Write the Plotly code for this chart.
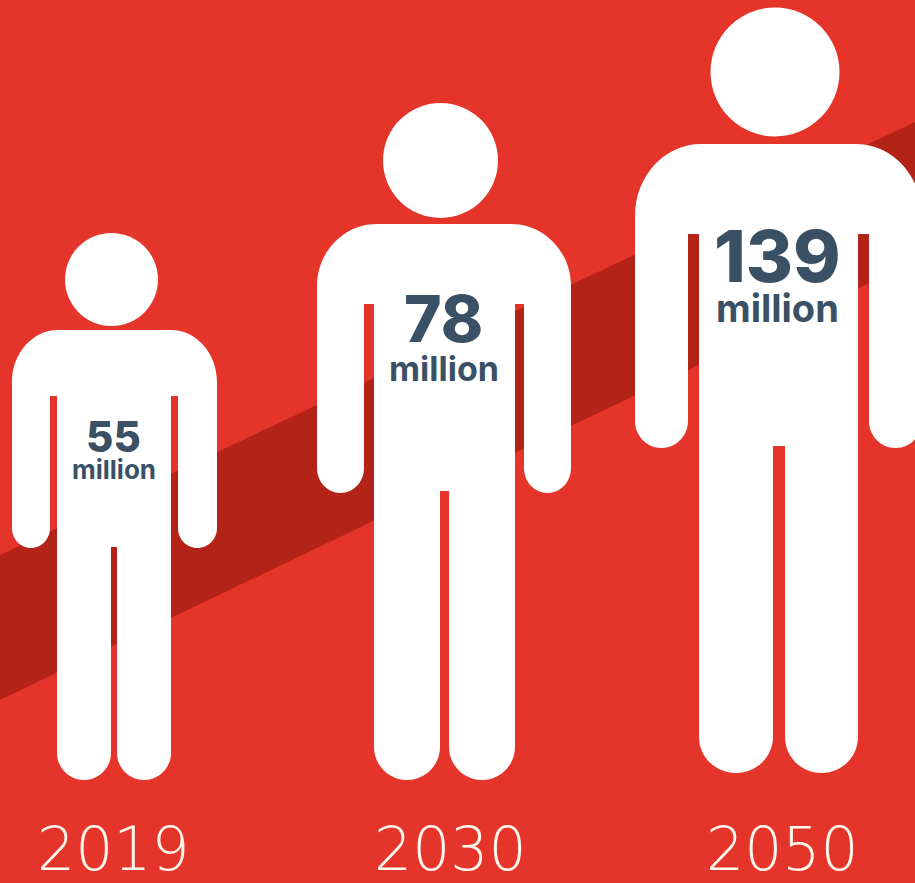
import plotly.graph_objects as go

# Population figures, in millions, per projection year
years = ["2019", "2030", "2050"]
millions = [55, 78, 139]
unit_label = "million"

BACKGROUND = "#E5352B"
BAND = "#B42318"
INK = "#3A5165"
WHITE = "#FFFFFF"
KAPPA = 0.5523

# Body proportions of each pictogram, one entry per year
head_x = [111.5, 440.5, 775]
head_y = [279.5, 160.5, 72]
head_r = [46.5, 57.5, 64.5]
shoulder_top = [330, 224, 144]
outer_left = [12, 317, 635]
outer_right = [217, 571, 922]
torso_left = [57, 374, 699]
torso_right = [171, 515, 858]
arm_inner_left = [50, 364, 688]
arm_inner_right = [178, 524, 869]
armpit_y = [396, 304, 234]
hand_y = [548, 493, 448]
crotch_y = [547, 491, 446]
inner_leg_left = [111, 440, 773]
inner_leg_right = [117, 449, 785]
foot_y = [780, 780, 773]
shoulder_rx = [46, 60, 66]
shoulder_ry = [52, 62, 72]
hand_ry = [20, 25, 27]
foot_ry = [27, 33, 36]

# Label placement and type sizes
label_x = [113.5, 443.5, 777]
value_y = [436, 318, 255]
unit_y = [469, 368, 308]
value_size = [42, 64, 72]
unit_size = [26, 34, 38]
year_x = [113, 450, 782]
year_y = 849
year_size = 60


def corner(x0, y0, x1, y1, horizontal_first):
    """Cubic segment for a quarter ellipse from the current point to (x1, y1)."""
    if horizontal_first:
        c1 = (x0 + (x1 - x0) * KAPPA, y0)
        c2 = (x1, y1 - (y1 - y0) * KAPPA)
    else:
        c1 = (x0, y0 + (y1 - y0) * KAPPA)
        c2 = (x1 - (x1 - x0) * KAPPA, y1)
    return f"C{c1[0]:.1f},{c1[1]:.1f} {c2[0]:.1f},{c2[1]:.1f} {x1:.1f},{y1:.1f} "


def limb_end(a, b, bottom, ry):
    """Rounded end of a limb, walked from side a, round the tip, to side b."""
    mid = (a + b) / 2
    start = bottom - ry
    return (
        f"L{a},{start} "
        + corner(a, start, mid, bottom, False)
        + corner(mid, bottom, b, start, True)
    )


def body_path(i):
    top, rx, ry = shoulder_top[i], shoulder_rx[i], shoulder_ry[i]
    ol, or_ = outer_left[i], outer_right[i]
    d = f"M{ol},{top + ry} "
    d += corner(ol, top + ry, ol + rx, top, False)
    d += f"L{or_ - rx},{top} "
    d += corner(or_ - rx, top, or_, top + ry, True)
    # Right arm
    d += limb_end(or_, arm_inner_right[i], hand_y[i], hand_ry[i])
    d += f"L{arm_inner_right[i]},{armpit_y[i]} L{torso_right[i]},{armpit_y[i]} "
    # Right leg
    d += limb_end(torso_right[i], inner_leg_right[i], foot_y[i], foot_ry[i])
    d += f"L{inner_leg_right[i]},{crotch_y[i]} L{inner_leg_left[i]},{crotch_y[i]} "
    # Left leg
    d += limb_end(inner_leg_left[i], torso_left[i], foot_y[i], foot_ry[i])
    d += f"L{torso_left[i]},{armpit_y[i]} L{arm_inner_left[i]},{armpit_y[i]} "
    # Left arm
    d += limb_end(arm_inner_left[i], ol, hand_y[i], hand_ry[i])
    return d + "Z"


shapes = [
    # Rising diagonal band behind the figures
    dict(
        type="path",
        path="M0,555 L915,122 L915,261 L0,700 Z",
        fillcolor=BAND,
        line_width=0,
        layer="below",
    )
]
annotations = []

for i, value in enumerate(millions):
    shapes.append(
        dict(
            type="circle",
            x0=head_x[i] - head_r[i],
            x1=head_x[i] + head_r[i],
            y0=head_y[i] - head_r[i],
            y1=head_y[i] + head_r[i],
            fillcolor=WHITE,
            line_width=0,
        )
    )
    shapes.append(dict(type="path", path=body_path(i), fillcolor=WHITE, line_width=0))
    annotations.append(
        dict(
            x=label_x[i], y=value_y[i], text=str(value), showarrow=False,
            font=dict(family="Inter", size=value_size[i], color=INK, weight=800),
        )
    )
    annotations.append(
        dict(
            x=label_x[i], y=unit_y[i], text=unit_label, showarrow=False,
            font=dict(family="Inter", size=unit_size[i], color=INK, weight=700),
        )
    )
    annotations.append(
        dict(
            x=year_x[i], y=year_y, text=years[i], showarrow=False,
            font=dict(family="DejaVu Sans", size=year_size, color="#FFF6EC", weight=200),
        )
    )

fig = go.Figure()
fig.update_layout(
    width=915,
    height=883,
    margin=dict(l=0, r=0, t=0, b=0),
    paper_bgcolor=BACKGROUND,
    plot_bgcolor=BACKGROUND,
    shapes=shapes,
    annotations=annotations,
    showlegend=False,
    xaxis=dict(range=[0, 915], visible=False, fixedrange=True),
    yaxis=dict(range=[883, 0], visible=False, fixedrange=True),
)
fig.write_html("out.html", config={"displayModeBar": False})
